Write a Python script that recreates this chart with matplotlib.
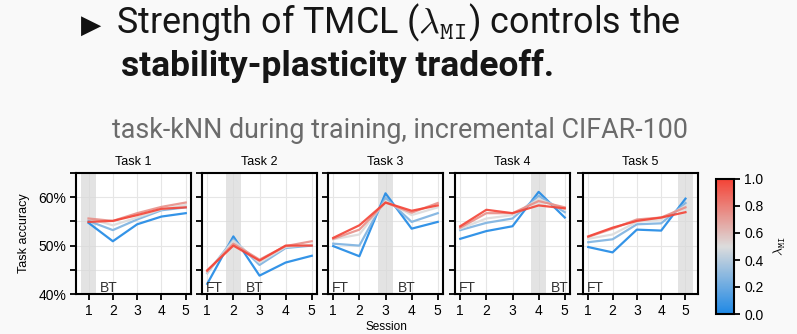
import matplotlib
matplotlib.use("Agg")
import matplotlib.pyplot as plt
from matplotlib.colors import LinearSegmentedColormap, Normalize
from matplotlib.cm import ScalarMappable

# lambda_MI values (one line each) and sessions
lambdas = [0.0, 0.25, 0.5, 0.75, 1.0]
sessions = [1, 2, 3, 4, 5]
task_names = ["Task 1", "Task 2", "Task 3", "Task 4", "Task 5"]

# task-kNN accuracy (%) per lambda, per session
acc_task1 = [[54.7, 50.9, 54.4, 56.0, 56.7],
             [55.1, 53.2, 55.4, 57.3, 57.9],
             [55.6, 54.2, 55.8, 57.5, 58.4],
             [55.6, 55.1, 56.7, 58.0, 58.9],
             [54.9, 55.1, 56.3, 57.6, 57.9]]
acc_task2 = [[42.1, 51.9, 43.8, 46.5, 47.9],
             [44.3, 51.3, 46.0, 49.5, 50.0],
             [44.4, 51.0, 46.5, 49.7, 50.2],
             [44.7, 50.4, 47.1, 49.9, 50.9],
             [44.9, 50.0, 46.9, 50.0, 50.0]]
acc_task3 = [[49.9, 47.8, 60.8, 53.5, 54.9],
             [50.4, 50.0, 59.9, 54.9, 56.7],
             [51.3, 52.3, 59.2, 56.3, 57.9],
             [51.4, 53.3, 58.9, 56.8, 58.8],
             [51.6, 54.2, 58.9, 57.2, 58.3]]
acc_task4 = [[51.4, 53.0, 54.0, 61.1, 55.8],
             [53.2, 54.7, 55.6, 60.3, 56.9],
             [53.5, 55.6, 56.3, 59.6, 57.5],
             [53.7, 56.7, 56.7, 59.2, 57.9],
             [54.0, 57.4, 56.7, 58.3, 57.7]]
acc_task5 = [[49.7, 48.6, 53.3, 53.1, 59.7],
             [50.7, 51.3, 54.4, 54.6, 58.8],
             [51.4, 52.3, 54.9, 55.4, 58.2],
             [51.8, 53.5, 55.4, 55.8, 57.9],
             [51.9, 53.7, 55.1, 55.8, 56.9]]
all_acc = [acc_task1, acc_task2, acc_task3, acc_task4, acc_task5]

y_ticks = [40, 45, 50, 55, 60, 65]
y_ticklabels = ["40%", "", "50%", "", "60%", ""]

bg = "#f9f9f9"
cmap = LinearSegmentedColormap.from_list("bwr_soft", ["#1e88e5", "#dcdcdc", "#f44336"])
norm = Normalize(0, 1)

plt.rcParams["font.family"] = ["Liberation Sans", "DejaVu Sans"]
plt.rcParams["mathtext.fontset"] = "cm"

W, H = 797, 334
fig = plt.figure(figsize=(W / 100, H / 100), dpi=100, facecolor=bg)

def px_axes(left, top, right, bottom):
    return fig.add_axes([left / W, 1 - bottom / H, (right - left) / W, (bottom - top) / H])

# header
fig.text(81 / W, 1 - 33 / H, "\u25B6", fontsize=19, color="#111111",
         family="DejaVu Sans", va="baseline")
fig.text(116 / W, 1 - 33 / H, r"Strength of TMCL ($\lambda_{\mathtt{MI}}$) controls the",
         fontsize=25.8, color="#161616", family="Roboto", va="baseline")
fig.text(121 / W, 1 - 76 / H, "stability-plasticity tradeoff.", fontsize=25.5,
         fontweight=600, color="#161616", family="Roboto", va="baseline")
fig.text(112 / W, 1 - 138 / H, "task-kNN during training, incremental CIFAR-100",
         fontsize=19.4, color="#6b6b6b", family="Roboto", va="baseline")

lefts = [76, 202, 328, 455, 583]
for i, (acc, name) in enumerate(zip(all_acc, task_names)):
    t = i + 1
    ax = px_axes(lefts[i], 173, lefts[i] + 115, 294)
    ax.set_facecolor("white")
    ax.axvspan(t - 0.3, t + 0.3, color="#d8d8d8", alpha=0.7, lw=0, zorder=1)
    for lam, vals in zip(lambdas, acc):
        ax.plot(sessions, vals, color=cmap(norm(lam)), lw=1.6, alpha=0.9, zorder=3)
    lo, hi = min(1, t - 0.3), max(5, t + 0.3)
    pad = 0.05 * (hi - lo)
    ax.set_xlim(lo - pad, hi + pad)
    ax.set_ylim(40, 65)
    ax.set_xticks(sessions)
    ax.set_yticks(y_ticks)
    if i == 0:
        ax.set_yticklabels(y_ticklabels)
        ax.set_ylabel("Task accuracy", fontsize=9, labelpad=6)
    else:
        ax.set_yticklabels([])
    ax.grid(True, color="#e6e6e6", lw=0.8, zorder=0)
    ax.set_axisbelow(True)
    ax.tick_params(direction="out", length=4, width=1.3, labelsize=10, pad=3)
    for sp in ax.spines.values():
        sp.set_linewidth(1.5)
    ax.set_title(name, fontsize=9, pad=6)
    if t > 1:
        ax.text(0.035, 40.4, "FT", transform=ax.get_yaxis_transform(), fontsize=10,
                color="#333333", va="baseline", ha="left", zorder=4)
    if t < 5:
        ax.text(t + 0.48, 40.4, "BT", fontsize=10, color="#333333",
                va="baseline", ha="left", zorder=4)

fig.text(386 / W, 1 / H, "Session", fontsize=8.5, ha="center", va="bottom")

cax = px_axes(716, 179, 734, 314)
sm = ScalarMappable(norm=norm, cmap=cmap)
cb = fig.colorbar(sm, cax=cax)
cb.set_ticks([0, 0.2, 0.4, 0.6, 0.8, 1.0])
cb.ax.tick_params(labelsize=10, length=4, width=1.3)
cb.outline.set_linewidth(1.5)
cb.set_label(r"$\lambda_{\mathtt{MI}}$", fontsize=10, labelpad=6)

fig.savefig("out.png", dpi=100, facecolor=bg)
